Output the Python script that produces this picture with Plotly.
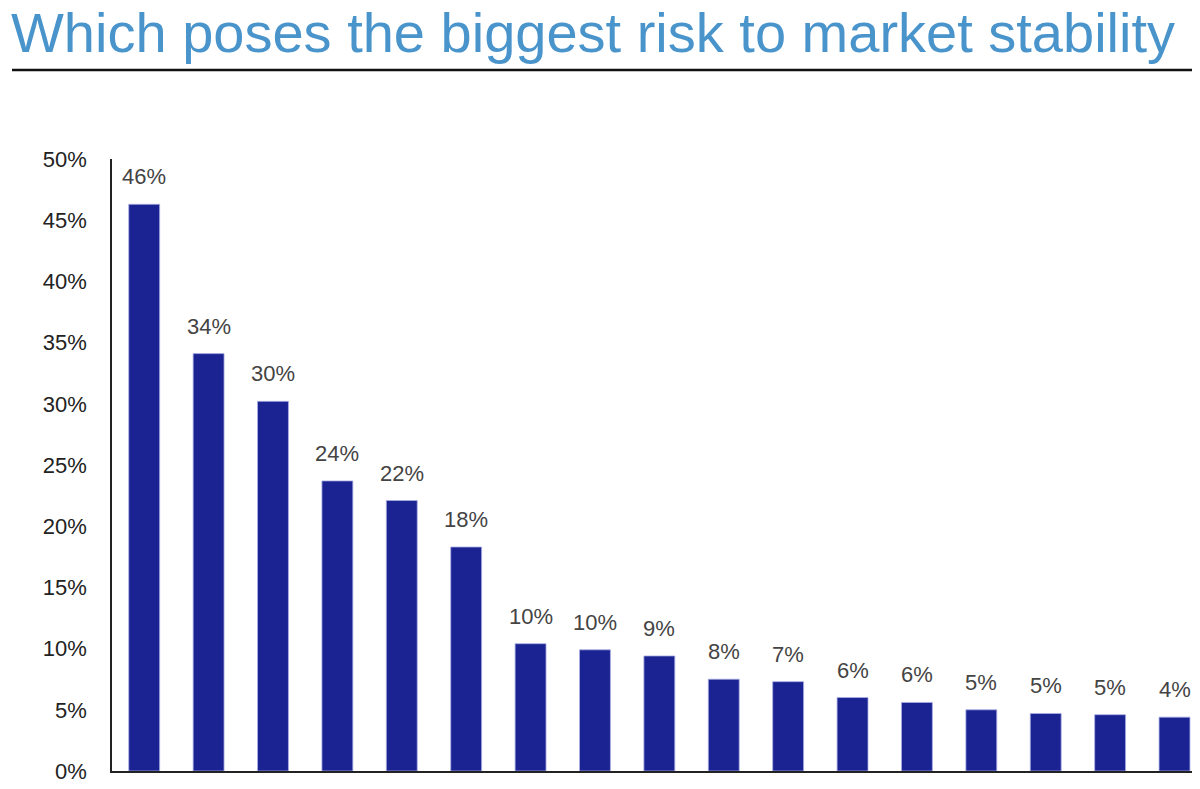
import plotly.graph_objects as go

categories = [f"Risk {i}" for i in range(1, 18)]
values = [46.3, 34.1, 30.2, 23.7, 22.1, 18.3, 10.4, 9.9, 9.4, 7.5, 7.3, 6.0, 5.6, 5.0, 4.7, 4.6, 4.4]
labels = [f"{round(v):.0f}%" for v in values]
title_text = "Which poses the biggest risk to market stability"

PW, PH = 1096, 612  # plot area size in px
X0, Y0 = 112, 771   # plot area left / bottom on screen

fig = go.Figure()
fig.add_trace(go.Bar(
    x=categories, y=values,
    marker=dict(color="#1b2292", line=dict(color="#a9afe3", width=0.8)),
    hoverinfo="skip",
))

for c, v, t in zip(categories, values, labels):
    fig.add_annotation(x=c, y=v, text=t, showarrow=False, xref="x", yref="y",
                       yanchor="bottom", yshift=13,
                       font=dict(family="Liberation Sans, Arial", size=22, color="#444444"))

fig.add_annotation(text=title_text, xref="paper", yref="paper",
                   x=(9 - X0) / PW, y=(Y0 + 1) / PH, xanchor="left", yanchor="top",
                   showarrow=False,
                   font=dict(family="Liberation Sans, Arial", size=56, color="#4a94cc"))

fig.add_shape(type="line", xref="paper", yref="paper",
              x0=(12 - X0) / PW, x1=1.05, y0=(Y0 - 70) / PH, y1=(Y0 - 70) / PH,
              line=dict(color="#111111", width=2.5))

fig.update_layout(
    width=1200, height=789,
    margin=dict(l=104, r=0, t=151, b=26),
    paper_bgcolor="white", plot_bgcolor="white",
    bargap=0.52,
    showlegend=False,
    xaxis=dict(range=[-0.5, 16.52], showticklabels=False, showgrid=False,
               showline=True, linecolor="#222222", linewidth=2, ticks="", zeroline=False),
    yaxis=dict(range=[0, 50], dtick=5, ticksuffix="%", showgrid=False, zeroline=False,
               showline=True, linecolor="#222222", linewidth=1.5, ticks="",
               ticklabelstandoff=19,
               tickfont=dict(family="Liberation Sans, Arial", size=22, color="#222222")),
)

fig.write_html("out.html")
